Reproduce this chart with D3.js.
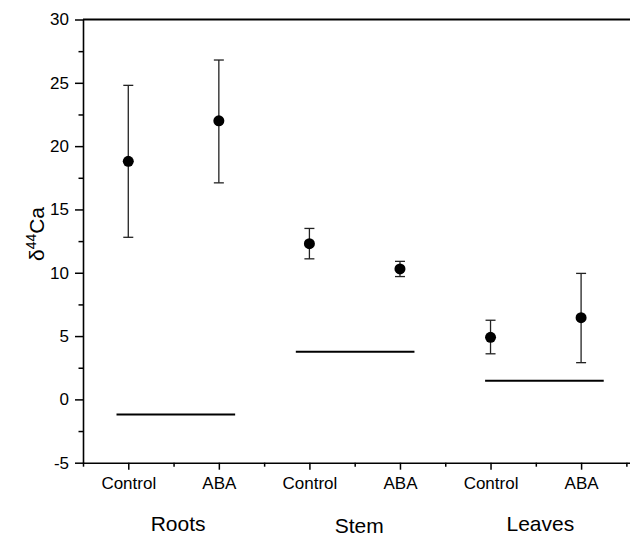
<!DOCTYPE html>
<html>
<head>
<meta charset="utf-8">
<script src="https://cdn.jsdelivr.net/npm/d3@7"></script>
<style>
  body { margin: 0; background: #fff; }
  svg text { font-family: Arial, "Liberation Sans", sans-serif; fill: #000; }
</style>
</head>
<body>
<div id="chart"></div>
<script>
// data
var treatments = ['Control', 'ABA', 'Control', 'ABA', 'Control', 'ABA'];
var tissues = ['Roots', 'Stem', 'Leaves'];
var means = [18.8, 22.0, 12.3, 10.3, 4.9, 6.45];
var lowers = [12.8, 17.1, 11.1, 9.7, 3.6, 2.9];
var uppers = [24.8, 26.8, 13.5, 10.9, 6.25, 9.95];
// reference lines per tissue: start, end, value
var refStart = [0.87, 2.85, 4.94];
var refEnd = [2.18, 4.16, 6.25];
var refValue = [-1.2, 3.77, 1.48];
var yTicks = [-5, 0, 5, 10, 15, 20, 25, 30];

var width = 630, height = 538;
var mLeft = 83, mRight = 630, mTop = 19.5, mBottom = 462.7;

var svg = d3.select('#chart').append('svg')
  .attr('width', width).attr('height', height);

var x = d3.scaleLinear().domain([0.5, 6.54]).range([mLeft, mRight]);
var y = d3.scaleLinear().domain([-5, 30]).range([mBottom, mTop]);

// y axis, minor ticks first
svg.append('g')
  .attr('transform', 'translate(' + mLeft + ',0)')
  .call(d3.axisLeft(y).tickValues(d3.range(-2.5, 30, 5)).tickSize(4.5).tickFormat(''))
  .call(g => g.select('.domain').remove())
  .selectAll('line').attr('stroke-width', 1.5);

var yAx = svg.append('g')
  .attr('transform', 'translate(' + mLeft + ',0)')
  .call(d3.axisLeft(y).tickValues(yTicks).tickSize(8).tickPadding(6).tickSizeOuter(0)
    .tickFormat(d => String(d)));
yAx.select('.domain').attr('stroke-width', 1.6);
yAx.selectAll('line').attr('stroke-width', 1.5);
yAx.selectAll('text').attr('font-size', 17).attr('font-family', 'Arial, "Liberation Sans", sans-serif');

// x axis, minor ticks then major
svg.append('g')
  .attr('transform', 'translate(0,' + mBottom + ')')
  .call(d3.axisBottom(x).tickValues(d3.range(0.5, 6.6, 1)).tickSize(4).tickFormat(''))
  .call(g => g.select('.domain').remove())
  .selectAll('line').attr('stroke-width', 1.5);

var xAx = svg.append('g')
  .attr('transform', 'translate(0,' + mBottom + ')')
  .call(d3.axisBottom(x).tickValues(d3.range(1, 7)).tickSize(7).tickPadding(7).tickSizeOuter(0)
    .tickFormat((d, i) => treatments[i]));
xAx.select('.domain').attr('stroke-width', 1.6);
xAx.selectAll('line').attr('stroke-width', 1.5);
xAx.selectAll('text').attr('font-size', 17).attr('font-family', 'Arial, "Liberation Sans", sans-serif');

// top frame line
svg.append('line')
  .attr('x1', mLeft).attr('x2', mRight)
  .attr('y1', y(30)).attr('y2', y(30))
  .attr('stroke', '#000').attr('stroke-width', 2.2);

// tissue group labels
svg.selectAll('.group')
  .data(tissues)
  .enter()
  .append('text')
  .attr('class', 'group')
  .attr('x', (d, i) => x(1.55 + 2 * i))
  .attr('y', (d, i) => i === 1 ? 533 : 531)
  .attr('text-anchor', 'middle')
  .attr('font-size', 21)
  .text(d => d);

// y label
var yl = svg.append('text')
  .attr('transform', 'translate(44,' + 234 + ') rotate(-90)')
  .attr('text-anchor', 'middle')
  .attr('font-size', 21);
yl.append('tspan').text('δ');
yl.append('tspan').attr('font-size', 14).attr('dy', -8).text('44');
yl.append('tspan').attr('dy', 8).text('Ca');

// reference lines
svg.selectAll('.ref')
  .data(refValue)
  .enter()
  .append('line')
  .attr('class', 'ref')
  .attr('x1', (d, i) => x(refStart[i]))
  .attr('x2', (d, i) => x(refEnd[i]))
  .attr('y1', d => y(d))
  .attr('y2', d => y(d))
  .attr('stroke', '#000')
  .attr('stroke-width', 2);

// error bars
var eb = svg.selectAll('.eb')
  .data(means)
  .enter()
  .append('g')
  .attr('class', 'eb')
  .attr('stroke', '#222')
  .attr('stroke-width', 1.3);

eb.append('line')
  .attr('x1', (d, i) => x(i + 1)).attr('x2', (d, i) => x(i + 1))
  .attr('y1', (d, i) => y(lowers[i])).attr('y2', (d, i) => y(uppers[i]));
eb.append('line')
  .attr('x1', (d, i) => x(i + 1) - 5).attr('x2', (d, i) => x(i + 1) + 5)
  .attr('y1', (d, i) => y(uppers[i])).attr('y2', (d, i) => y(uppers[i]));
eb.append('line')
  .attr('x1', (d, i) => x(i + 1) - 5).attr('x2', (d, i) => x(i + 1) + 5)
  .attr('y1', (d, i) => y(lowers[i])).attr('y2', (d, i) => y(lowers[i]));

// points
svg.selectAll('.pt')
  .data(means)
  .enter()
  .append('circle')
  .attr('class', 'pt')
  .attr('cx', (d, i) => x(i + 1))
  .attr('cy', d => y(d))
  .attr('r', 5.5)
  .attr('fill', '#000');
</script>
</body>
</html>
